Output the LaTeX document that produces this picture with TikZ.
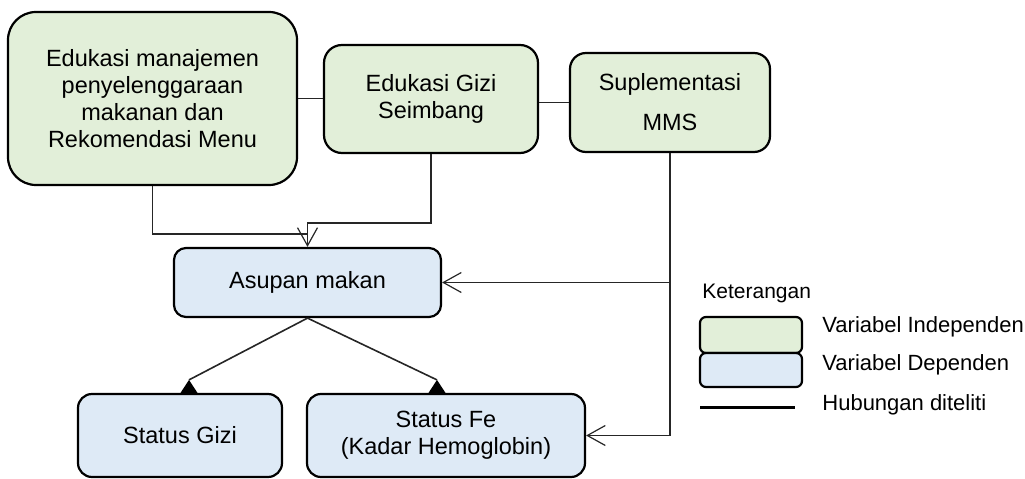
\documentclass[tikz,border=0pt]{standalone}
\usepackage{fontspec}
\setmainfont{Liberation Sans}
\usetikzlibrary{arrows.meta,calc}
\definecolor{indep}{HTML}{E2EFD9}
\definecolor{dep}{HTML}{DEEAF6}
\begin{document}
\begin{tikzpicture}[x=0.5pt,y=0.5pt,
  box/.style={draw=black, line width=1.1pt, align=center, inner sep=0pt,
              font=\fontsize{11.75}{13.5}\selectfont},
  ind/.style={box, fill=indep},
  dp/.style={box, fill=dep},
  conn/.style={draw=black!85, line width=0.6pt},
  barb/.style={-{Straight Barb[length=9pt,width=10pt]}},
  legtext/.style={anchor=west, inner sep=0pt, font=\fontsize{11}{13}\selectfont}]
\useasboundingbox (0,0) rectangle (1025,478);
% independent variables
\node[ind, minimum width=144.5pt, minimum height=86.5pt, rounded corners=14pt] (A) at (152.5,379.5)
  {Edukasi manajemen\\penyelenggaraan\\makanan dan\\Rekomendasi Menu};
\node[ind, minimum width=107pt, minimum height=54pt, rounded corners=9pt] (B) at (431,379)
  {Edukasi Gizi\\Seimbang};
\node[ind, minimum width=100pt, minimum height=49.5pt, rounded corners=8pt] (C) at (670,375.5)
  {Suplementasi\\[6.5pt]MMS};
% dependent variables
\node[dp, minimum width=133.5pt, minimum height=34.5pt, rounded corners=6pt] (asupan) at (307.5,195.5)
  {\raisebox{2.25pt}{Asupan makan}};
\node[dp, minimum width=102pt, minimum height=41.5pt, rounded corners=7pt] (gizi) at (180,42.5)
  {\raisebox{-2.5pt}{Status Gizi}};
\node[dp, minimum width=139pt, minimum height=41.5pt, rounded corners=7pt] (fe) at (446,42.5)
  {\raisebox{-2.75pt}{\begin{tabular}{@{}c@{}}Status Fe\\(Kadar Hemoglobin)\end{tabular}}};
% connectors
\draw[conn] (A.east) -- (A.east -| B.west);
\draw[conn] (C.west -| B.east) -- (C.west);
\coordinate (ja) at ($(asupan.north)+(0,13)$);
\coordinate (jb) at ($(asupan.north)+(0,24)$);
\draw[conn] (A.south) |- (ja);
\draw[conn, barb] (B.south) |- (jb) -- (asupan.north);
\draw[conn, barb] (C.south |- asupan.east) -- (asupan.east);
\draw[conn, barb] (C.south) |- (fe.east);
% relations with filled triangles
\coordinate (tg) at ($(gizi.north)+(9,13)$);
\coordinate (tf) at ($(fe.north)+(-9,13)$);
\draw[conn, line width=0.8pt] (asupan.south) -- (tg);
\draw[conn, line width=0.8pt] (asupan.south) -- (tf);
\fill (tg) -- ++(-8.5,-13) -- ++(17,0) -- cycle;
\fill (tf) -- ++(-8.5,-13) -- ++(17,0) -- cycle;
% legend
\node[legtext, font=\fontsize{10.5}{12.5}\selectfont] (ket) at (702,185) {Keterangan};
\node[box, fill=indep, minimum width=51pt, minimum height=18pt, rounded corners=3pt] (lg) at (751,143) {};
\node[box, fill=dep, minimum width=51pt, minimum height=17pt, rounded corners=3pt] (lb) at (751,108) {};
\node[legtext] (tind) at (822,151) {Variabel Independen};
\node[legtext] (tdep) at (822,113) {Variabel Dependen};
\node[legtext] (thub) at (822,73) {Hubungan diteliti};
\coordinate (l1) at (700,71);
\coordinate (l2) at (795,71);
\draw[line width=1.5pt] (l1) -- (l2);
\end{tikzpicture}
\end{document}
